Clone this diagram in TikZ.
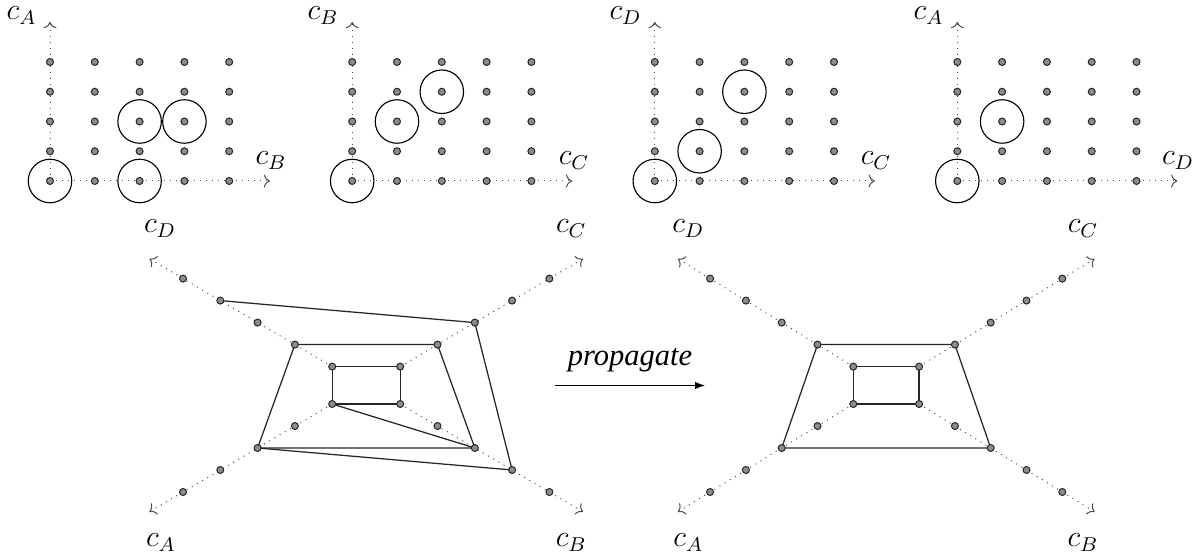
\documentclass[tikz,border=0pt]{standalone}
\usepackage{fontspec}
\newfontfamily\timesit{Liberation Serif Italic}
\usetikzlibrary{arrows.meta}
\pgfdeclarelayer{bg}
\pgfsetlayers{bg,main}
\begin{document}
\begin{tikzpicture}[x=0.4pt,y=-0.4pt,
  dot/.style={circle,draw=black!85,fill=black!45,line width=0.4pt,minimum size=2.8pt,inner sep=0pt},
  ring/.style={draw=black,line width=0.45pt},
  axis/.style={draw=black!70,dotted,line width=0.4pt,->},
  edge/.style={draw=black!85,line width=0.5pt},
  lab/.style={font=\large,inner sep=0pt},
  proparrow/.style={draw=black,line width=0.45pt,-{Latex[length=4pt,width=3pt]}}]
\useasboundingbox (0,0) rectangle (1204,557);

% ---------- top grids ----------
\foreach \g/\ox in {1/50,2/352.2,3/654.8,4/957.3}{
  \foreach \i in {0,...,4}{
    \foreach \j in {0,...,4}{
      \node[dot] (g\g-\i-\j) at ({\ox+44.8*\i},{181-29.75*\j}) {};
    }
  }
  \coordinate (g\g-ty) at (\ox,22);
  \coordinate (g\g-tx) at ({\ox+220},181);
  \begin{pgfonlayer}{bg}
    \draw[axis] (g\g-0-0.center) -- (g\g-ty);
    \draw[axis] (g\g-0-0.center) -- (g\g-tx);
  \end{pgfonlayer}
}
% axis labels
\node[lab,anchor=base east] (l1y) at (37,20) {$c_A$};
\node[lab,anchor=base] (l1x) at (271,165) {$c_B$};
\node[lab,anchor=base east] (l2y) at (339,20) {$c_B$};
\node[lab,anchor=base] (l2x) at (574,165) {$c_C$};
\node[lab,anchor=base east] (l3y) at (642,20) {$c_D$};
\node[lab,anchor=base] (l3x) at (876,165) {$c_C$};
\node[lab,anchor=base east] (l4y) at (944,20) {$c_A$};
\node[lab,anchor=base] (l4x) at (1178,165) {$c_D$};
% highlight circles
\foreach \c in {g1-0-0,g1-2-0,g1-2-2,g1-3-2,
                g2-0-0,g2-1-2,g2-2-3,
                g3-0-0,g3-1-1,g3-2-3,
                g4-0-0,g4-1-2}{
  \draw[ring] (\c.center) circle[radius=8.7pt];
}

% ---------- bottom graphs ----------
\foreach \G/\cx/\ox/\sx in {L/366.2/34/37.3,R/886.2/32.9/35.8}{
  \foreach \d/\ux/\uy in {A/-1/1,B/1/1,C/1/-1,D/-1/-1}{
    \foreach \k in {0,...,4}{
      \node[dot] (\G\d\k) at ({\cx+\ux*(\ox+\sx*\k)},{385.3+\uy*(18.7+22*\k)}) {};
    }
    \coordinate (\G\d t) at ({\cx+\ux*(\ox+\sx*4.9)},{385.3+\uy*(18.7+22*4.9)});
    \begin{pgfonlayer}{bg}
      \draw[axis] (\G\d0.center) -- (\G\d t);
    \end{pgfonlayer}
  }
}
\begin{pgfonlayer}{bg}
  % left graph
  \draw[edge] (LA0.center) -- (LB0.center) -- (LC0.center) -- (LD0.center) -- cycle;
  \draw[edge] (LD1.center) -- (LC1.center) -- (LB2.center) -- (LA2.center) -- cycle;
  \draw[edge] (LA0.center) -- (LB2.center);
  \draw[edge] (LD3.center) -- (LC2.center) -- (LB3.center) -- (LA2.center);
  % right graph
  \draw[edge] (RA0.center) -- (RB0.center) -- (RC0.center) -- (RD0.center) -- cycle;
  \draw[edge] (RD1.center) -- (RC1.center) -- (RB2.center) -- (RA2.center) -- cycle;
\end{pgfonlayer}
% bottom labels
\node[lab,anchor=base] (bLD) at (160,233) {$c_D$};
\node[lab,anchor=base] (bLC) at (571.3,233) {$c_C$};
\node[lab,anchor=base] (bLA) at (161,546.7) {$c_A$};
\node[lab,anchor=base] (bLB) at (571.3,546.7) {$c_B$};
\node[lab,anchor=base] (bRD) at (688.3,233) {$c_D$};
\node[lab,anchor=base] (bRC) at (1083,233) {$c_C$};
\node[lab,anchor=base] (bRA) at (688.3,546.7) {$c_A$};
\node[lab,anchor=base] (bRB) at (1083,546.7) {$c_B$};

% propagate arrow
\coordinate (pa) at (555,385.5);
\coordinate (pb) at (705,385.5);
\draw[proparrow] (pa) -- (pb);
\node[inner sep=0pt,anchor=base,font=\timesit\fontsize{12.2}{14}\selectfont] (prop) at (630,366) {propagate};
\end{tikzpicture}
\end{document}
